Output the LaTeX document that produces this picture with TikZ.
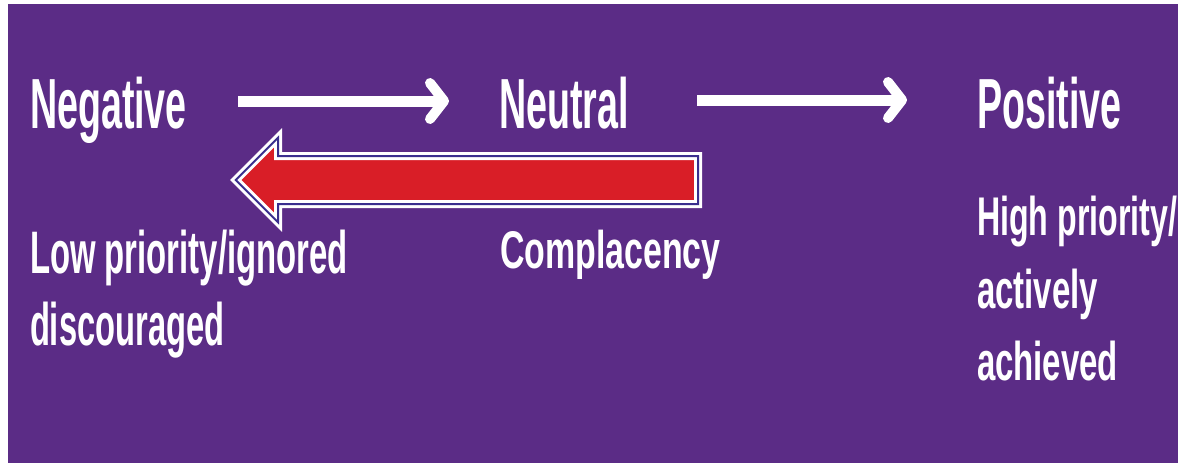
\documentclass[tikz,border=0pt]{standalone}
\usepackage{graphicx}
\usepackage{fontspec}
\setmainfont{Liberation Sans}
\definecolor{bgpurple}{HTML}{5B2C86}
\definecolor{arrred}{HTML}{D91E27}
\definecolor{arrblue}{HTML}{3A2E8E}
\tikzset{
  lbl/.style={anchor=base west, inner sep=0pt, outer sep=0pt, text=white},
  ttl/.style={lbl, font=\fontsize{71}{71}\selectfont\bfseries},
  subA/.style={lbl, font=\fontsize{60}{60}\selectfont\bfseries},
  subB/.style={lbl, font=\fontsize{53}{53}\selectfont\bfseries},
  subC/.style={lbl, font=\fontsize{54.5}{54.5}\selectfont\bfseries},
  wshaft/.style={draw=white, line width=11pt, line cap=butt},
  whead/.style={draw=white, line width=10pt, line cap=round, line join=round},
  redfill/.style={fill=arrred},
  redouter/.style={draw=white, line width=8pt, line join=miter},
  redinner/.style={draw=arrblue, line width=2pt, line join=miter},
}
\begin{document}
\begin{tikzpicture}[x=1pt,y=-1pt]
\useasboundingbox (0,0) rectangle (1178,464);
\fill[white] (0,0) rectangle (1178,464);
\fill[bgpurple] (8,4) rectangle (1178,463);

% titles
\node[ttl] (neg) at (30,128) {\scalebox{0.53}[1]{Negative}};
\node[ttl] (neu) at (499,128) {\scalebox{0.53}[1]{Neutral}};
\node[ttl] (pos) at (977,128) {\scalebox{0.53}[1]{Positive}};

% subtitles
\node[subA] (low1) at (30,273) {\scalebox{0.548}[1]{Low priority/ignored}};
\node[subA] (low2) at (30,345) {\scalebox{0.545}[1]{discouraged}};
\node[subB] (comp) at (500,268) {\scalebox{0.64}[1]{Complacency}};
\node[subC] (hi1) at (977,235) {\scalebox{0.59}[1]{High priority/}};
\node[subC] (hi2) at (977,308) {\scalebox{0.605}[1]{actively}};
\node[subC] (hi3) at (977,380) {\scalebox{0.605}[1]{achieved}};

% white arrows
\coordinate (a1s) at (238,101);
\coordinate (a1e) at (440,101);
\coordinate (a1t) at (444,101);
\coordinate (a1u) at (430,83);
\coordinate (a1d) at (430,119);
\draw[wshaft] (a1s) -- (a1e);
\draw[whead] (a1u) -- (a1t) -- (a1d);

\coordinate (a2s) at (697,100);
\coordinate (a2e) at (898,100);
\coordinate (a2t) at (902,100);
\coordinate (a2u) at (888,82);
\coordinate (a2d) at (888,118);
\draw[wshaft] (a2s) -- (a2e);
\draw[whead] (a2u) -- (a2t) -- (a2d);

% red block arrow (Neutral back to Negative)
\coordinate (rt) at (235.7,180);
\coordinate (rh1) at (278,137.7);
\coordinate (rs1) at (278,156);
\coordinate (re1) at (698,156);
\coordinate (re2) at (698,204);
\coordinate (rs2) at (278,204);
\coordinate (rh2) at (278,222.3);
\fill[redfill] (rt) -- (rh1) -- (rs1) -- (re1) -- (re2) -- (rs2) -- (rh2) -- cycle;
\draw[redouter] (rt) -- (rh1) -- (rs1) -- (re1) -- (re2) -- (rs2) -- (rh2) -- cycle;
\draw[redinner] (rt) -- (rh1) -- (rs1) -- (re1) -- (re2) -- (rs2) -- (rh2) -- cycle;
\end{tikzpicture}
\end{document}
